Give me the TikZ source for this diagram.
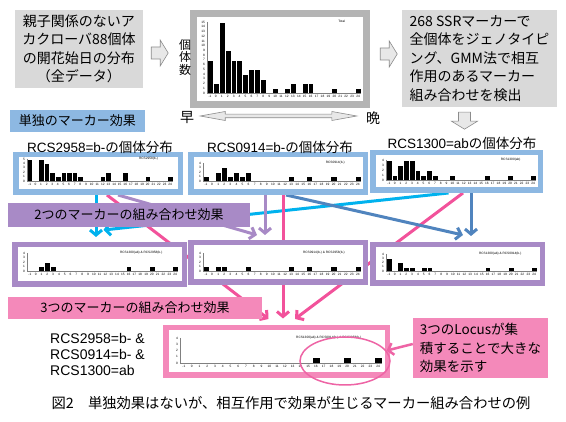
\documentclass[tikz,border=0pt]{standalone}
\usepackage{fontspec}
\setmainfont{Noto Sans CJK JP}
\newfontfamily\lat{Liberation Sans}
\usetikzlibrary{
  arrows.meta,
  positioning,
  calc,
  shapes.geometric
}
\usepackage{xcolor}
\definecolor{boxGray}{RGB}{217,217,217}
\definecolor{frameGray}{RGB}{180,180,180}
\definecolor{arrowGray}{RGB}{140,140,140}
\definecolor{arrowFill}{RGB}{232,232,232}
\definecolor{skyFrame}{RGB}{141,184,226}
\definecolor{lilac}{RGB}{168,138,198}
\definecolor{rose}{RGB}{244,137,186}
\definecolor{cyanLink}{RGB}{0,178,238}
\definecolor{pinkLink}{RGB}{242,82,155}
\definecolor{steelLink}{RGB}{80,132,190}
\definecolor{ringPink}{RGB}{238,100,165}
\pgfdeclarelayer{paper}
\pgfdeclarelayer{background}
\pgfsetlayers{paper,background,main}
\newcommand{\histo}[6]{%
  \begin{scope}[shift={(#1)}, y=1pt]
    \pgfmathsetmacro{\binw}{#2/26}
    \pgfmathsetmacro{\unith}{#3/#4}
    \foreach \idx/\cnt in {#6}
      \draw[histBar] ({(\idx+1)*\binw},0) rectangle ++(\binw,{\cnt*\unith});
    \draw[histAxis] (0,#3) -- (0,0) -- (#2,0);
    \foreach \tk in {-1,...,24}
      \node[tickLabel] at ({(\tk+1.5)*\binw},-3.8) {\tk};
    \foreach \tk in {0,...,#4}
      \node[tickLabel,anchor=east] at (-1.5,{\tk*\unith}) {\tk};
    \node[tickLabel,anchor=north east] at ({0.9*#2},#3+2) {#5};
  \end{scope}}
\newcommand{\hollowArrow}[2]{%
  \draw[blockArrow, shift={(#1)}, rotate=#2]
    (0,-6) -- (9,-6) -- (9,-13) -- (17,0) -- (9,13) -- (9,6) -- (0,6) -- cycle;}
\tikzset{
  grayBox/.style={
    fill=boxGray,
    inner sep=0pt,
    font=\fontsize{14}{18.5}\selectfont
  }
}
\tikzset{
  frame/.style={
    draw,
    fill=white,
    line width=5.5pt,
    inner sep=0pt
  },
  grayFrame/.style={frame, draw=frameGray, line width=7.5pt},
  soloFrame/.style={frame, draw=skyFrame},
  pairFrame/.style={frame, draw=lilac},
  trioFrame/.style={frame, draw=rose}
}
\tikzset{
  effectLabel/.style={
    inner sep=0pt,
    font=\fontsize{13}{15}\selectfont
  },
  frameTitle/.style={
    inner sep=0pt,
    font=\fontsize{13.5}{15}\selectfont
  },
  axisText/.style={
    inner sep=0pt,
    font=\fontsize{14}{15}\selectfont
  }
}
\tikzset{
  histBar/.style={fill=black, draw=white, line width=0.3pt},
  histAxis/.style={draw=gray, line width=0.4pt},
  tickLabel/.style={inner sep=0.3pt, text=black, font=\lat\fontsize{3.2}{3.5}\selectfont},
  blockArrow/.style={draw=arrowGray, fill=arrowFill, line width=0.6pt, line join=miter}
}
\tikzset{
  link/.style={
    line width=3pt,
    -{Straight Barb[length=5pt,width=12pt]}
  },
  cyanArrow/.style={link, draw=cyanLink},
  pinkArrow/.style={link, draw=pinkLink},
  lilacArrow/.style={link, draw=lilac},
  steelArrow/.style={link, draw=steelLink}
}

\begin{document}
\begin{tikzpicture}[x=1pt, y=-1pt]
  \useasboundingbox (0,0) rectangle (566,422);
  \begin{pgfonlayer}{paper}
    \fill[white] (0,0) rectangle (566,422);
  \end{pgfonlayer}
  % whole population
  \node[grayBox, minimum width=128pt, minimum height=78pt, align=center]
    (alldata) at (79,49) {親子関係のないア\\カクローバ88個体\\の開花始日の分布\\（全データ）};
  \node[grayFrame, minimum width=173pt, minimum height=91pt] (total) at (280,59) {};
  \node[grayBox, minimum width=155pt, minimum height=97pt, align=left]
    (gmm) at (479.5,58.5) {268 SSRマーカーで\\全個体をジェノタイピ\\ング、GMM法で相互\\作用のあるマーカー\\組み合わせを検出};
  \node[axisText, align=center, font=\fontsize{12}{12.5}\selectfont] (count) at (185,57) {個\\体\\数};
  \node[axisText] (early) at (187,118) {早};
  \node[axisText] (late) at (373,118) {晩};
  \hollowArrow{$(alldata.east)+(8,4)$}{0}
  \hollowArrow{$(total.east)+(10,-5)$}{0}
  \hollowArrow{$(gmm.south)+(-15,5)$}{-90}
  \path ($(early.east)+(6,-2)$) coordinate (ltip)
        ($(late.west)+(-9,-2)$) coordinate (rtip);
  \draw[blockArrow] (ltip) -- ++(25,-4.5) -- ++(0,2.7)
    -- ($(rtip)+(-25,-1.8)$) -- ++(0,-2.7) -- (rtip)
    -- ++(-25,4.5) -- ++(0,-2.7)
    -- ($(ltip)+(25,1.8)$) -- ++(0,2.7) -- cycle;
  \histo{207,93}{154}{71}{15}{Total}{-1/7,0/2,1/15,2/9,3/7,4/7,5/4,6/5,7/5,8/3,10/1,12/1,13/2,15/2,16/2,20/1,24/1}

  % single markers
  \node[soloFrame, minimum width=164.5pt, minimum height=37.5pt] (solo1) at (98,173.5) {};
  \node[soloFrame, minimum width=174.5pt, minimum height=37.5pt] (solo2) at (278,173.5) {};
  \node[soloFrame, minimum width=167.5pt, minimum height=37.5pt] (solo3) at (456.5,171.5) {};
  \node[frameTitle] at ($(solo1.north)+(2,-5)$) {{\lat RCS2958=b-}の個体分布};
  \node[frameTitle] at ($(solo2.north)+(2,-5)$) {{\lat RCS0914=b-}の個体分布};
  \node[frameTitle] at ($(solo3.north)+(5.5,-6.5)$) {{\lat RCS1300=ab}の個体分布};
  \histo{27,181}{146}{22}{5}{RCS2958(b-)}{-1/5,1/5,2/4,3/2,4/1,5/2,6/2,7/2,8/1,12/1,13/2,16/2,20/1,24/1}
  \histo{203,181}{158}{18}{4}{RCS0914(b-)}{-1/1,1/2,2/3,3/1,4/2,5/1,6/2,13/1,16/1,20/1,24/1}
  \histo{386,180}{150}{20}{4}{RCS1300(ab)}{-1/4,0/1,1/3,2/4,3/4,4/2,5/1,6/2,7/1,10/1,16/1,20/1,24/1}

  % pairs
  \node[pairFrame, minimum width=169.5pt, minimum height=39.5pt] (pair1) at (99.5,264.5) {};
  \node[pairFrame, minimum width=174.5pt, minimum height=39.5pt] (pair2) at (278,262.5) {};
  \node[pairFrame, minimum width=169.5pt, minimum height=38.5pt] (pair3) at (457.5,264) {};
  \histo{27,271}{151}{18}{4}{RCS1300(ab) \& RCS2958(b-)}{1/1,2/2,3/1,16/1,20/1,24/1}
  \histo{203,271}{158}{18}{4}{RCS0914(b-) \& RCS2958(b-)}{-1/1,1/1,2/1,6/1,13/1,16/1,20/1,24/1}
  \histo{386,271}{151}{17}{4}{RCS1300(ab) \& RCS0914(b-)}{-1/3,1/2,2/1,3/1,5/1,6/1,16/1,20/1,24/1}

  % triple
  \node[trioFrame, minimum width=221.5pt, minimum height=47.5pt] (trio) at (276.5,351.5) {};
  \histo{180,363}{202}{25}{4}{RCS1300(ab) \& RCS0914(b-) \& RCS2958(b-)}{16/1,20/1,24/1}

  \begin{pgfonlayer}{background}
    \draw[cyanArrow, shorten >=5pt] ([xshift=-2pt]solo1.south) -- ([xshift=-2pt]solo1.south |- pair1.north);
    \draw[cyanArrow] ([xshift=-8pt]solo3.south) -- ($(pair1.north)+(4,-12)$);
    \draw[pinkArrow] ([xshift=9pt]solo1.south) -- ($(trio.north)+(-8,-6)$);
    \draw[pinkArrow, shorten >=6.5pt] ([xshift=5pt]solo2.south) -- ([xshift=5pt]solo2.south |- trio.north);
    \draw[pinkArrow] ([xshift=6.5pt]solo3.south) -- ($(trio.north)+(18.5,-6)$);
    \draw[lilacArrow] ([xshift=20pt]solo1.south) -- ($(pair2.north)+(-21,-5)$);
    \draw[lilacArrow, shorten >=5pt] ([xshift=-13pt]solo2.south) -- ([xshift=-13pt]solo2.south |- pair2.north);
    \draw[steelArrow] ([xshift=8pt]solo2.south) -- ($(pair3.north)+(5.5,-7)$);
    \draw[steelArrow, shorten >=6pt] ([xshift=14.5pt]solo3.south) -- ([xshift=14.5pt]solo3.south |- pair3.north);
  \end{pgfonlayer}

  % effect labels
  \node[effectLabel, fill=skyFrame, minimum width=135pt, minimum height=22pt] (soloLabel) at (77.5,121) {単独のマーカー効果};
  \node[effectLabel, fill=lilac, minimum width=242pt, minimum height=24pt] (pairLabel) at (129,215) {2つのマーカーの組み合わせ効果};
  \node[effectLabel, fill=rose, minimum width=254pt, minimum height=22pt] (trioLabel) at (135,308) {3つのマーカーの組み合わせ効果};

  \node[font=\lat\fontsize{14}{16}\selectfont, align=left, anchor=west, inner sep=0pt]
    (combo) at (50,354) {RCS2958=b- \&\\RCS0914=b- \&\\RCS1300=ab};
  \node[ellipse, draw=ringPink, line width=1.5pt, minimum width=90pt, minimum height=48pt] (focus) at (345,361) {};
  \node[grayBox, fill=rose, minimum width=135pt, minimum height=60pt, align=left, font=\fontsize{13.5}{18.5}\selectfont]
    (note) at (480.5,348) {3つのLocusが集\\積することで大きな\\効果を示す};
  \draw[link, draw=ringPink, line width=2.5pt] ([yshift=4pt]note.west) -- (focus);

  \node[inner sep=0pt, font=\fontsize{14.3}{16}\selectfont] (caption) at (291,403)
    {図2　単独効果はないが、相互作用で効果が生じるマーカー組み合わせの例};
\end{tikzpicture}
\end{document}
